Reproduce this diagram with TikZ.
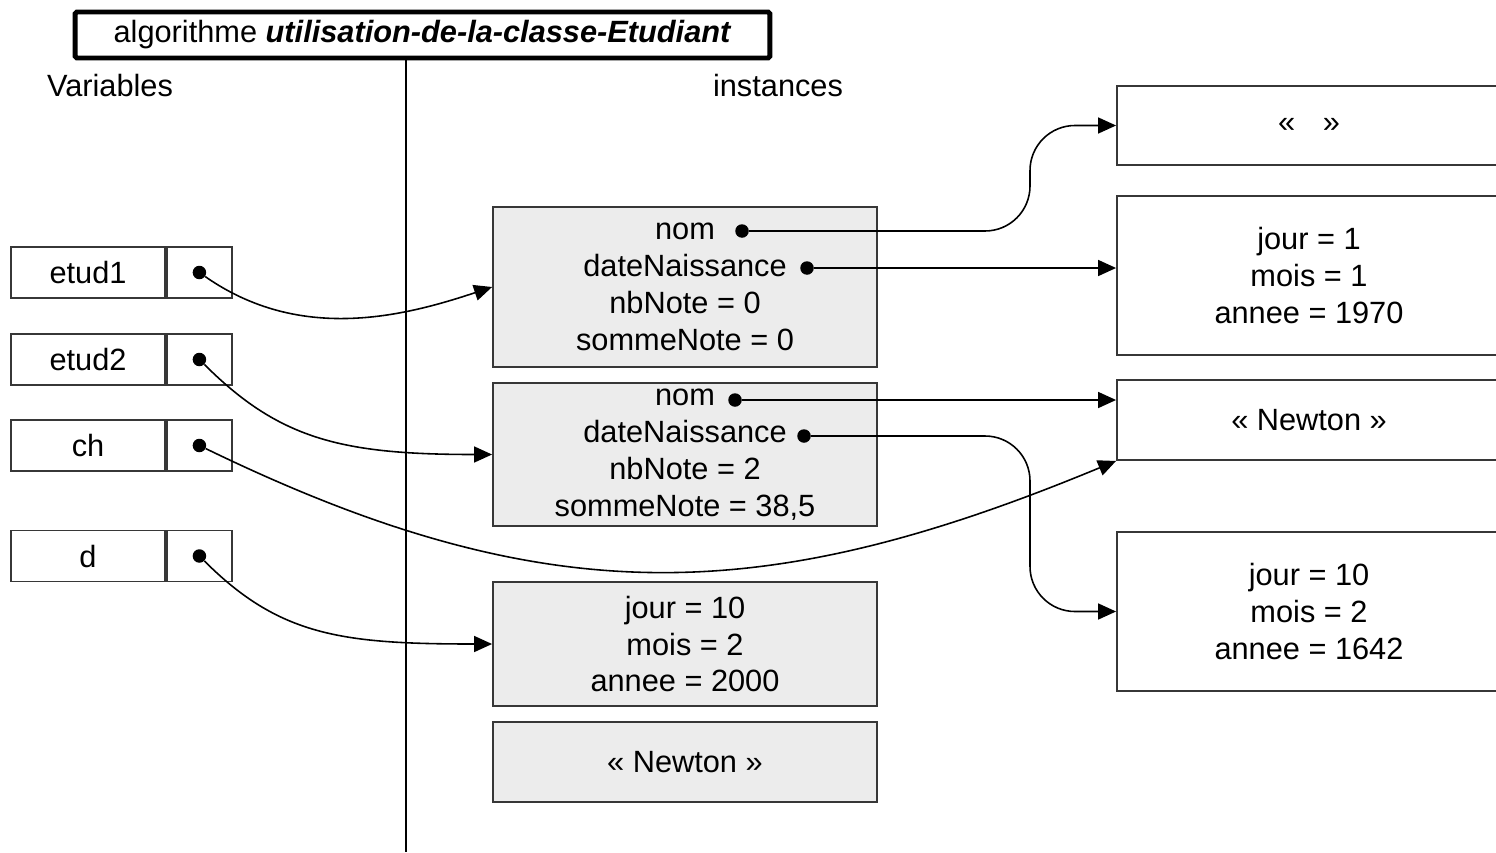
\documentclass[tikz,border=0pt]{standalone}
\usepackage{fontspec}
\setmainfont{Liberation Sans}
\usepackage{xcolor}
\usetikzlibrary{arrows.meta,positioning}
\definecolor{objgray}{RGB}{236,236,236}
\definecolor{edgegray}{RGB}{55,55,55}

\begin{document}
\begin{tikzpicture}[x=0.02cm,y=-0.02cm,>={Triangle[length=3.6mm,width=3.2mm]},
  font=\fontsize{17.5}{21}\selectfont,
  cell/.style={draw=edgegray,line width=1.1pt,minimum height=10.2mm,inner sep=0pt},
  inst/.style={draw=edgegray,line width=1.1pt,fill=objgray,minimum width=76.8mm,align=center,inner sep=0pt},
  ref/.style={draw=edgegray,line width=1.1pt,minimum width=76.8mm,align=center,inner sep=0pt},
  dot/.style={circle,fill=black,inner sep=0pt,minimum size=2.7mm},
  link/.style={->,line width=0.9pt}]
  \useasboundingbox (0,0) rectangle (1496,852);

  % en-tete et separation
  \node[draw,line width=2.8pt,rounded corners=1pt,minimum width=139mm,minimum height=9.2mm] (titre) at (422.5,35)
    {algorithme \textbf{\textit{utilisation-de-la-classe-Etudiant}}};
  \coordinate (sep) at (406,852);
  \draw[line width=0.9pt] (sep |- titre.south) -- (sep);
  \node (vars) at (110,86) {Variables};
  \node (insts) at (778,86) {instances};

  % variables
  \node[cell,minimum width=30.8mm] (e1n) at (88,272.5) {etud1};
  \node[cell,minimum width=13mm,right=0pt of e1n] (e1p) {};
  \node[dot] (e1d) at (e1p) {};
  \node[cell,minimum width=30.8mm] (e2n) at (88,359.5) {etud2};
  \node[cell,minimum width=13mm,right=0pt of e2n] (e2p) {};
  \node[dot] (e2d) at (e2p) {};
  \node[cell,minimum width=30.8mm] (chn) at (88,445.5) {ch};
  \node[cell,minimum width=13mm,right=0pt of chn] (chp) {};
  \node[dot] (chd) at (chp) {};
  \node[cell,minimum width=30.8mm] (dn) at (88,556) {d};
  \node[cell,minimum width=13mm,right=0pt of dn] (dp) {};
  \node[dot] (dd) at (dp) {};

  % instances
  \node[inst,minimum height=32mm] (obj1) at (685,287) {nom\\dateNaissance\\nbNote = 0\\sommeNote = 0};
  \node[inst,minimum height=28.6mm] (obj2) at (685,454.5) {nom\\dateNaissance\\nbNote = 2\\sommeNote = 38,5};
  \node[inst,minimum height=24.8mm] (dobj) at (685,644) {jour = 10\\mois = 2\\annee = 2000};
  \node[inst,minimum height=16mm] (sobj) at (685,762) {« Newton »};
  \node[dot] (obj1nom) at (742,231) {};
  \node[dot] (obj1date) at (807,268) {};
  \node[dot] (obj2nom) at (735,400) {};
  \node[dot] (obj2date) at (804,436) {};

  \node[ref,minimum height=15.8mm] (vide) at (1309,125.5) {«\hspace{5.5mm}»};
  \node[ref,minimum height=31.8mm] (date70) at (1309,275.5) {jour = 1\\mois = 1\\annee = 1970};
  \node[ref,minimum height=16mm] (newton) at (1309,420) {« Newton »};
  \node[ref,minimum height=31.8mm] (date42) at (1309,611.5) {jour = 10\\mois = 2\\annee = 1642};

  % references
  \draw[link] (e1d) .. controls +(100,70) and +(-90,30) .. (obj1.west);
  \draw[link] (e2d) .. controls +(80,80) and +(-150,0) .. (obj2.west);
  \draw[link] (chd) .. controls +(350,170) and +(-350,145) .. (newton.south west);
  \draw[link] (dd) .. controls +(80,80) and +(-150,0) .. (dobj.west);
  \draw[link,rounded corners=9mm] (obj1nom) -- (1030,231) -- (1030,125.5) -- (vide.west);
  \draw[link] (obj1date) -- (obj1date -| date70.west);
  \draw[link] (obj2nom) -- (obj2nom -| newton.west);
  \draw[link,rounded corners=9mm] (obj2date) -- (1030,436) -- (1030,611.5) -- (date42.west);
\end{tikzpicture}
\end{document}
